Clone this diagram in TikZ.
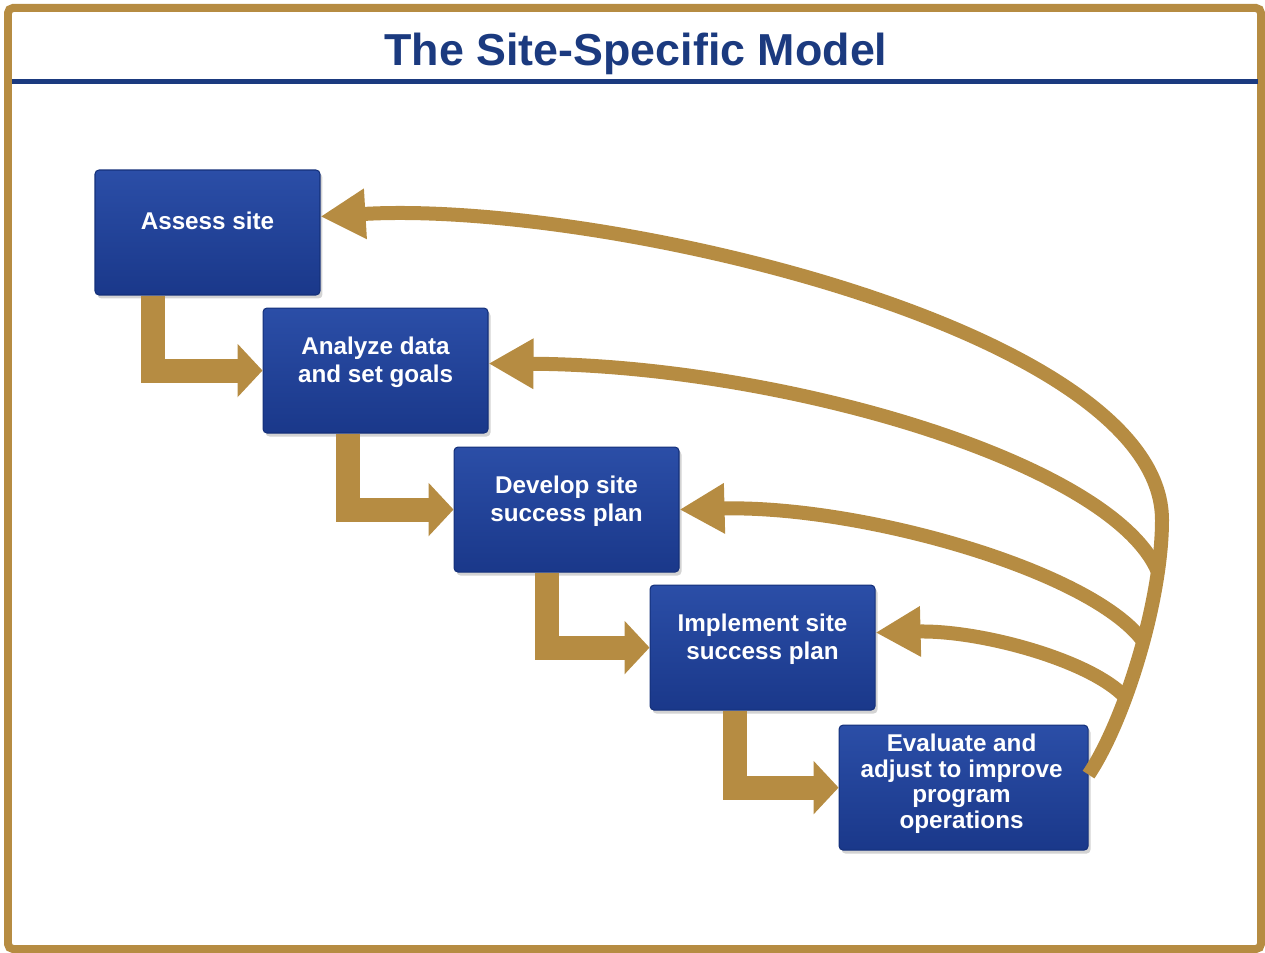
\documentclass[tikz,border=0pt]{standalone}
\usepackage{fontspec}
\setmainfont{Liberation Sans}
\usetikzlibrary{positioning,arrows.meta,shadows}

\definecolor{gold}{HTML}{B68C42}
\definecolor{titleblue}{HTML}{1B3A7F}
\definecolor{boxtop}{HTML}{2B4EA7}
\definecolor{boxbottom}{HTML}{1A388A}
\definecolor{boxedge}{HTML}{14307A}

\begin{document}
\begin{tikzpicture}[x=0.02cm, y=-0.02cm,
    stepbox/.style={rectangle, rounded corners=0.08cm, draw=boxedge, line width=0.6pt,
      top color=boxtop, bottom color=boxbottom,
      minimum width=4.5cm, minimum height=2.5cm,
      drop shadow={shadow xshift=0.05cm, shadow yshift=-0.07cm, opacity=0.35}},
    steptext/.style={text=white, align=center, font=\fontsize{13.8}{16}\selectfont\bfseries},
    elbow/.style={draw=gold, line width=0.48cm, line join=miter,
      -{Triangle[width=1.04cm, length=0.5cm]}},
    loopback/.style={draw=gold, line width=0.28cm,
      -{Triangle[width=0.95cm, length=0.9cm]}}]
  \useasboundingbox (0,0) rectangle (1265,953);

  % frame and heading
  \draw[gold, line width=0.16cm, rounded corners=0.1cm] (8,8) rectangle (1261,949);
  \node[anchor=base, text=titleblue, font=\fontsize{25.5}{30}\selectfont\bfseries]
    (title) at (636,66) {The Site-Specific Model};
  \draw[titleblue, line width=0.1cm] (12,82) -- (1258,82);

  % the five steps
  \node[stepbox] (assess) at (207.5,232.5) {};
  \node[stepbox, below right=0.24cm and -1.16cm of assess] (analyze) {};
  \node[stepbox, below right=0.26cm and -0.7cm of analyze] (develop) {};
  \node[stepbox, below right=0.24cm and -0.6cm of develop] (implement) {};
  \node[stepbox, minimum width=4.98cm, below right=0.28cm and -0.74cm of implement] (evaluate) {};

  \node[steptext] (assesstxt) at ([yshift=0.23cm]assess.center) {Assess site};
  \node[steptext] (analyzetxt) at ([yshift=0.16cm]analyze.center) {Analyze data\\and set goals};
  \node[steptext] (developtxt) at ([yshift=0.16cm]develop.center) {Develop site\\success plan};
  \node[steptext] (implementtxt) at ([yshift=0.16cm]implement.center) {Implement site\\success plan};
  \node[steptext, font=\fontsize{13.8}{14.6}\selectfont\bfseries]
    (evaluatetxt) at ([xshift=-0.04cm, yshift=0.08cm]evaluate.center) {Evaluate and\\adjust to improve\\program\\operations};

  % forward steps
  \draw[elbow] ([xshift=1.18cm]assess.south west) |- (analyze.west);
  \draw[elbow] ([xshift=1.7cm]analyze.south west) |- (develop.west);
  \draw[elbow] ([xshift=1.86cm]develop.south west) |- (implement.west);
  \draw[elbow] ([xshift=1.7cm]implement.south west) |- (evaluate.west);

  % feedback loops back to every step
  \coordinate (loop) at ([yshift=0.26cm]evaluate.east);
  \draw[loopback] (loop) .. controls (1125,720) and (1162,600) .. (1162,520)
    .. controls (1162,330) and (600,200) .. ([yshift=0.32cm]assess.east);
  \draw[loopback] (1158,572) .. controls (1112,462) and (780,365) .. ([yshift=0.14cm]analyze.east);
  \draw[loopback] (1143,641) .. controls (1090,570) and (860,505) .. (develop.east);
  \draw[loopback] (1125,697) .. controls (1090,660) and (980,630) .. ([yshift=0.3cm]implement.east);
\end{tikzpicture}
\end{document}
